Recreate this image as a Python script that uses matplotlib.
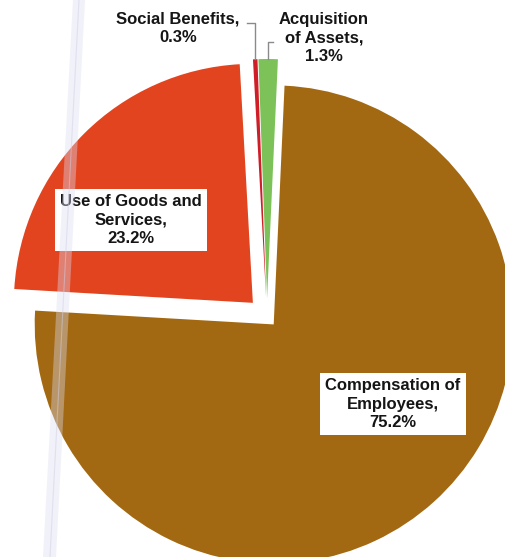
import math
import matplotlib
matplotlib.use("Agg")
import matplotlib.pyplot as plt
from matplotlib.patches import Polygon

# Spending shares (%)
categories = ["Compensation of\nEmployees", "Use of Goods and\nServices", "Social Benefits", "Acquisition\nof Assets"]
shares = [75.2, 23.2, 0.3, 1.3]
colors = ["#A36912", "#E2441F", "#D01E28", "#7DC258"]
explode_px = [10, 20, 19, 19]

W, H = 506, 557
fig = plt.figure(figsize=(W / 100, H / 100), dpi=100)
ax = fig.add_axes([0, 0, 1, 1])

center = (267, H - 317)
radius = 239
wedges, _ = ax.pie(shares, colors=colors, explode=explode_px, radius=radius,
                   center=center, startangle=87.4, counterclock=False,
                   wedgeprops=dict(linewidth=0))
ax.set_xlim(0, W)
ax.set_ylim(0, H)
ax.set_aspect("equal")
ax.axis("off")

font = dict(family=["Liberation Sans", "DejaVu Sans"], fontweight="bold",
            fontsize=12, color="#151515", ha="center", va="center",
            multialignment="center", linespacing=1.32)
box = dict(boxstyle="square,pad=0.3", facecolor="white", edgecolor="none")


def label_text(i):
    return f"{categories[i]},\n{shares[i]:.1f}%"


def outer_point(w):
    mid = math.radians((w.theta1 + w.theta2) / 2)
    cx, cy = w.center
    return cx + w.r * math.cos(mid), cy + w.r * math.sin(mid)


# Boxed labels inside the two large slices
ax.text(393, H - 404, label_text(0), bbox=box, **font)
ax.text(131, H - 220, label_text(1), bbox=box, **font)

# Labels for the two thin slices, with elbow leader lines
ax.text(178, H - 28, label_text(2), **font)
ax.text(324, H - 38, label_text(3), **font)

lead = dict(color="#8a8a8a", linewidth=1.0)
sx, sy = outer_point(wedges[2])
ax.plot([247, sx, sx], [H - 23, H - 23, sy], **lead)
gx, gy = outer_point(wedges[3])
ax.plot([273, gx, gx], [H - 42, H - 42, gy], **lead)

# Light streak across the left side
ax.add_patch(Polygon([(73, H), (85, H), (56, 0), (43, 0)], closed=True,
                     facecolor="#dcdcf0", edgecolor="none", alpha=0.4, zorder=5))
ax.plot([79, 50], [H, 0], color="#d0d0e4", linewidth=0.8, alpha=0.5, zorder=6)

fig.savefig("out.png", dpi=100)
